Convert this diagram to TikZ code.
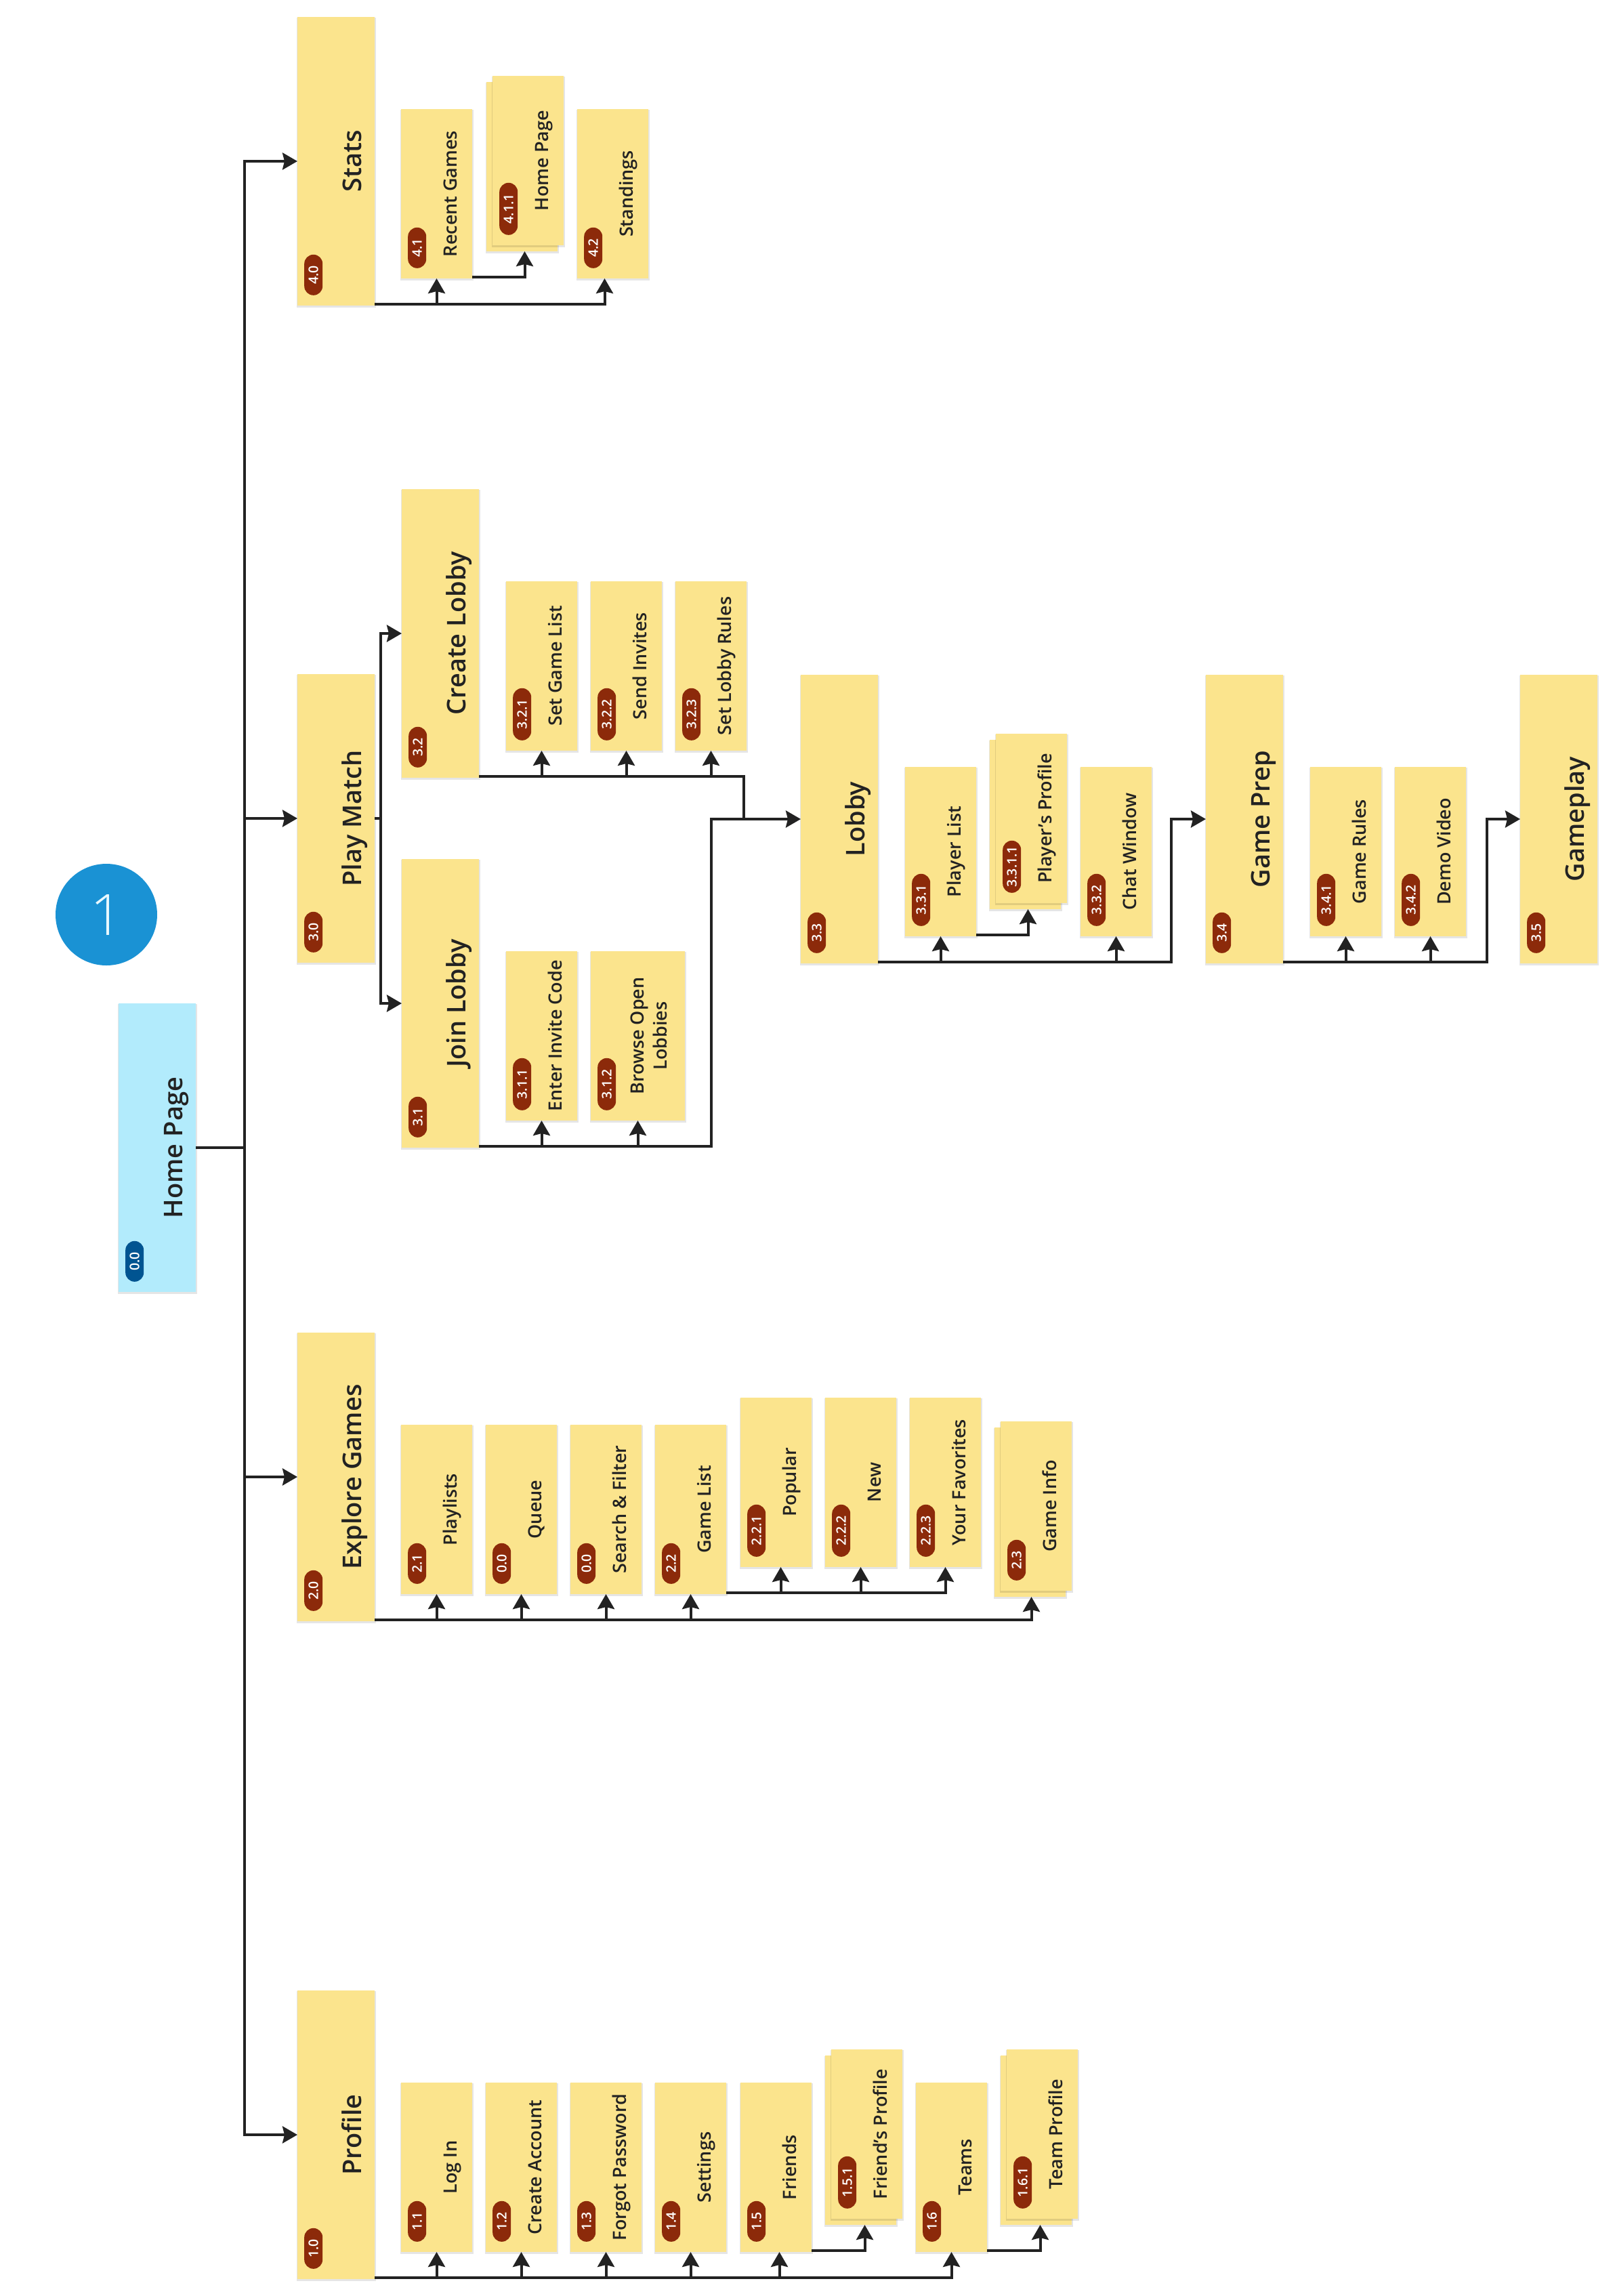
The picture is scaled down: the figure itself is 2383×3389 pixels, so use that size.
\documentclass[tikz,border=0pt]{standalone}
\usepackage{fontspec}
\IfFontExistsTF{Open Sans SemiBold}{%
  \setmainfont{Open Sans}[BoldFont={Open Sans SemiBold}]}{%
  \IfFontExistsTF{Open Sans Semibold}{%
    \setmainfont{Open Sans}[BoldFont={Open Sans Semibold}]}{%
    \setmainfont{Open Sans}}}
\IfFontExistsTF{Open Sans Light}{%
  \newfontfamily\PgLightFont{Open Sans Light}}{%
  \newfontfamily\PgLightFont{Open Sans}}
\usetikzlibrary{arrows.meta}
\definecolor{boxyellow}{RGB}{251,228,141}
\definecolor{homecyan}{RGB}{178,235,252}
\definecolor{badgered}{RGB}{140,42,10}
\definecolor{badgeblue}{RGB}{0,84,145}
\definecolor{circblue}{RGB}{26,146,212}
\definecolor{numwhite}{RGB}{232,248,255}
\definecolor{inkc}{RGB}{34,34,34}
\newcommand{\PgTitleFont}{\bfseries\fontsize{38}{46}\selectfont}
\newcommand{\PgSubFont}{\bfseries\fontsize{27}{34}\selectfont}
\newcommand{\PgBadgeFont}{\bfseries\fontsize{19.5}{22}\selectfont}
\tikzset{
  pagebox/.style={rectangle, inner sep=0pt, outer sep=0pt, anchor=north west},
  ttl/.style={rotate=90, anchor=base, font=\PgTitleFont, text=inkc, inner sep=0pt},
  subt/.style={rotate=90, anchor=base, font=\PgSubFont, text=inkc, inner sep=0pt},
  badge/.style={rotate=90, anchor=north west, fill=badgered, text=white, font=\PgBadgeFont,
    rounded corners=13.5pt, minimum height=27pt, inner sep=0pt},
  conn/.style={draw=inkc, line width=4pt},
  arr/.style={conn, -{Stealth[length=22pt, width=25pt, inset=3pt]}},
}
% name x y w h fill
\newcommand{\PgRect}[6]{%
  \fill[black, opacity=0.10] (#2-1.5,#3+1) rectangle (#2+#4+1.5,#3+#5+3);
  \node[pagebox, fill=#6, minimum width=#4pt, minimum height=#5pt] (#1) at (#2,#3) {};}
% name x y title badge badgelen
\newcommand{\MainPg}[6]{%
  \PgRect{#1}{#2}{#3}{114}{426}{boxyellow}
  \node[ttl] (#1-t) at ([xshift=-20pt]#1.east) {#4};
  \node[badge, minimum width=#6pt] (#1-b) at ([xshift=10pt,yshift=15pt]#1.south west) {#5};}
\newcommand{\SubPg}[6]{%
  \PgRect{#1}{#2}{#3}{105}{250}{boxyellow}
  \node[subt] (#1-t) at ([xshift=-23pt]#1.east) {#4};
  \node[badge, minimum width=#6pt] (#1-b) at ([xshift=10pt,yshift=15pt]#1.south west) {#5};}
\newcommand{\StackPg}[6]{%
  \PgRect{#1-back}{#2-9}{#3+9}{105}{250}{boxyellow}
  \SubPg{#1}{#2}{#3}{#4}{#5}{#6}}

\begin{document}
\begin{tikzpicture}[x=1pt,y=-1pt]
\useasboundingbox (0,0) rectangle (2383,3389);
\fill[white] (0,0) rectangle (2383,3389);

% numbered circle
\node[circle, fill=circblue, minimum size=150pt, inner sep=0pt, text=numwhite,
  font=\PgLightFont\fontsize{84}{90}\selectfont] (num) at (157,1350) {1};

% home page
\PgRect{home}{175}{1481}{114}{426}{homecyan}
\node[ttl] (home-t) at ([xshift=-20pt]home.east) {Home Page};
\node[badge, fill=badgeblue, minimum width=60pt] (home-b) at ([xshift=10pt,yshift=15pt]home.south west) {0.0};

% main pages
\MainPg{stats}{439}{25}{Stats}{4.0}{60}
\MainPg{play}{439}{995}{Play Match}{3.0}{60}
\MainPg{explore}{439}{1967}{Explore Games}{2.0}{60}
\MainPg{profile}{439}{2938}{Profile}{1.0}{60}
\MainPg{create}{593}{722}{Create Lobby}{3.2}{60}
\MainPg{join}{593}{1268}{Join Lobby}{3.1}{60}
\MainPg{lobby}{1182}{996}{Lobby}{3.3}{60}
\MainPg{gprep}{1780}{996}{Game Prep}{3.4}{60}
\MainPg{gplay}{2244}{996}{Gameplay}{3.5}{60}

% stats children
\SubPg{recent}{592}{161}{Recent Games}{4.1}{60}
\StackPg{hp}{727}{112}{Home Page}{4.1.1}{77}
\SubPg{standings}{852}{161}{Standings}{4.2}{60}

% create lobby children
\SubPg{sgl}{747}{858}{Set Game List}{3.2.1}{77}
\SubPg{si}{872}{858}{Send Invites}{3.2.2}{77}
\SubPg{slr}{997}{858}{Set Lobby Rules}{3.2.3}{77}

% join lobby children
\SubPg{eic}{747}{1404}{Enter Invite Code}{3.1.1}{77}
\PgRect{bol}{872}{1404}{139}{250}{boxyellow}
\node[subt, anchor=center, align=center, font=\PgSubFont] (bol-t) at ([xshift=-53pt]bol.east) {Browse Open\\Lobbies};
\node[badge, minimum width=77pt] (bol-b) at ([xshift=10pt,yshift=15pt]bol.south west) {3.1.2};

% lobby children
\SubPg{plist}{1336}{1132}{Player List}{3.3.1}{77}
\StackPg{pp}{1470}{1083}{Player’s Profile}{3.3.1.1}{77}
\SubPg{chat}{1595}{1132}{Chat Window}{3.3.2}{77}

% game prep children
\SubPg{grules}{1934}{1132}{Game Rules}{3.4.1}{77}
\SubPg{demo}{2059}{1132}{Demo Video}{3.4.2}{77}

% explore children
\SubPg{playlists}{592}{2103}{Playlists}{2.1}{60}
\SubPg{queue}{717}{2103}{Queue}{0.0}{60}
\SubPg{search}{842}{2103}{Search \& Filter}{0.0}{60}
\SubPg{glist}{967}{2103}{Game List}{2.2}{60}
\SubPg{popular}{1093}{2063}{Popular}{2.2.1}{77}
\SubPg{new}{1218}{2063}{New}{2.2.2}{77}
\SubPg{fav}{1343}{2063}{Your Favorites}{2.2.3}{77}
\StackPg{ginfo}{1477}{2098}{Game Info}{2.3}{60}

% profile children
\SubPg{login}{592}{3074}{Log In}{1.1}{60}
\SubPg{cacc}{717}{3074}{Create Account}{1.2}{60}
\SubPg{forgot}{842}{3074}{Forgot Password}{1.3}{60}
\SubPg{settings}{967}{3074}{Settings}{1.4}{60}
\SubPg{friends}{1093}{3074}{Friends}{1.5}{60}
\StackPg{fp}{1227}{3025}{Friend’s Profile}{1.5.1}{77}
\SubPg{teams}{1352}{3074}{Teams}{1.6}{60}
\StackPg{tp}{1486}{3025}{Team Profile}{1.6.1}{77}

% ---------- connectors ----------
\coordinate (tr) at (361,1694);
\draw[conn] (home.east) -- (tr);
\draw[arr] (tr) |- (stats.west);
\draw[arr] (tr) |- (play.west);
\draw[arr] (tr) |- (explore.west);
\draw[arr] (tr) |- (profile.west);

% stats
\draw[arr] ([yshift=2pt]stats.south east) -| (recent.south);
\draw[arr] ([yshift=2pt]stats.south east) -| ([xshift=-12pt]standings.south);
\draw[arr] ([yshift=2pt]recent.south east) -| ([xshift=4pt]hp-back.south);

% play match
\coordinate (pbr) at (562,1208);
\draw[conn] (play.east) -- (pbr);
\draw[arr] (pbr) |- (create.west);
\draw[arr] (pbr) |- (join.west);
\draw[arr] ([yshift=2pt]create.south east) -| (sgl.south);
\draw[arr] ([yshift=2pt]create.south east) -| (si.south);
\draw[arr] ([yshift=2pt]create.south east) -| (slr.south);
\coordinate (m1) at (1098,1209);
\coordinate (m2) at (1050,1209);
\draw[conn] ([yshift=2pt]create.south east) -| (m1);
\draw[arr] ([yshift=2pt]join.south east) -| (m2) -- (lobby.west);
\draw[arr] ([yshift=2pt]join.south east) -| (eic.south);
\draw[arr] ([yshift=2pt]join.south east) -| (bol.south);

% lobby
\draw[arr] ([yshift=2pt]lobby.south east) -| (plist.south);
\draw[arr] ([yshift=2pt]lobby.south east) -| (chat.south);
\coordinate (m3) at (1729,1209);
\draw[arr] ([yshift=2pt]lobby.south east) -| (m3) -- (gprep.west);
\draw[arr] ([yshift=2pt]plist.south east) -| ([xshift=4pt]pp-back.south);

% game prep
\draw[arr] ([yshift=2pt]gprep.south east) -| (grules.south);
\draw[arr] ([yshift=2pt]gprep.south east) -| (demo.south);
\coordinate (m4) at (2195,1209);
\draw[arr] ([yshift=2pt]gprep.south east) -| (m4) -- (gplay.west);

% explore
\draw[arr] ([yshift=2pt]explore.south east) -| (playlists.south);
\draw[arr] ([yshift=2pt]explore.south east) -| (queue.south);
\draw[arr] ([yshift=2pt]explore.south east) -| (search.south);
\draw[arr] ([yshift=2pt]explore.south east) -| (glist.south);
\draw[arr] ([yshift=2pt]explore.south east) -| ([xshift=2pt]ginfo-back.south);
\draw[arr] ([yshift=2pt]glist.south east) -| ([xshift=7pt]popular.south);
\draw[arr] ([yshift=2pt]glist.south east) -| (new.south);
\draw[arr] ([yshift=2pt]glist.south east) -| (fav.south);

% profile
\draw[arr] ([yshift=2pt]profile.south east) -| (login.south);
\draw[arr] ([yshift=2pt]profile.south east) -| (cacc.south);
\draw[arr] ([yshift=2pt]profile.south east) -| (forgot.south);
\draw[arr] ([yshift=2pt]profile.south east) -| (settings.south);
\draw[arr] ([yshift=2pt]profile.south east) -| ([xshift=5pt]friends.south);
\draw[arr] ([yshift=2pt]profile.south east) -| (teams.south);
\draw[arr] ([yshift=2pt]friends.south east) -| ([xshift=6pt]fp-back.south);
\draw[arr] ([yshift=2pt]teams.south east) -| ([xshift=6pt]tp-back.south);
\end{tikzpicture}
\end{document}
